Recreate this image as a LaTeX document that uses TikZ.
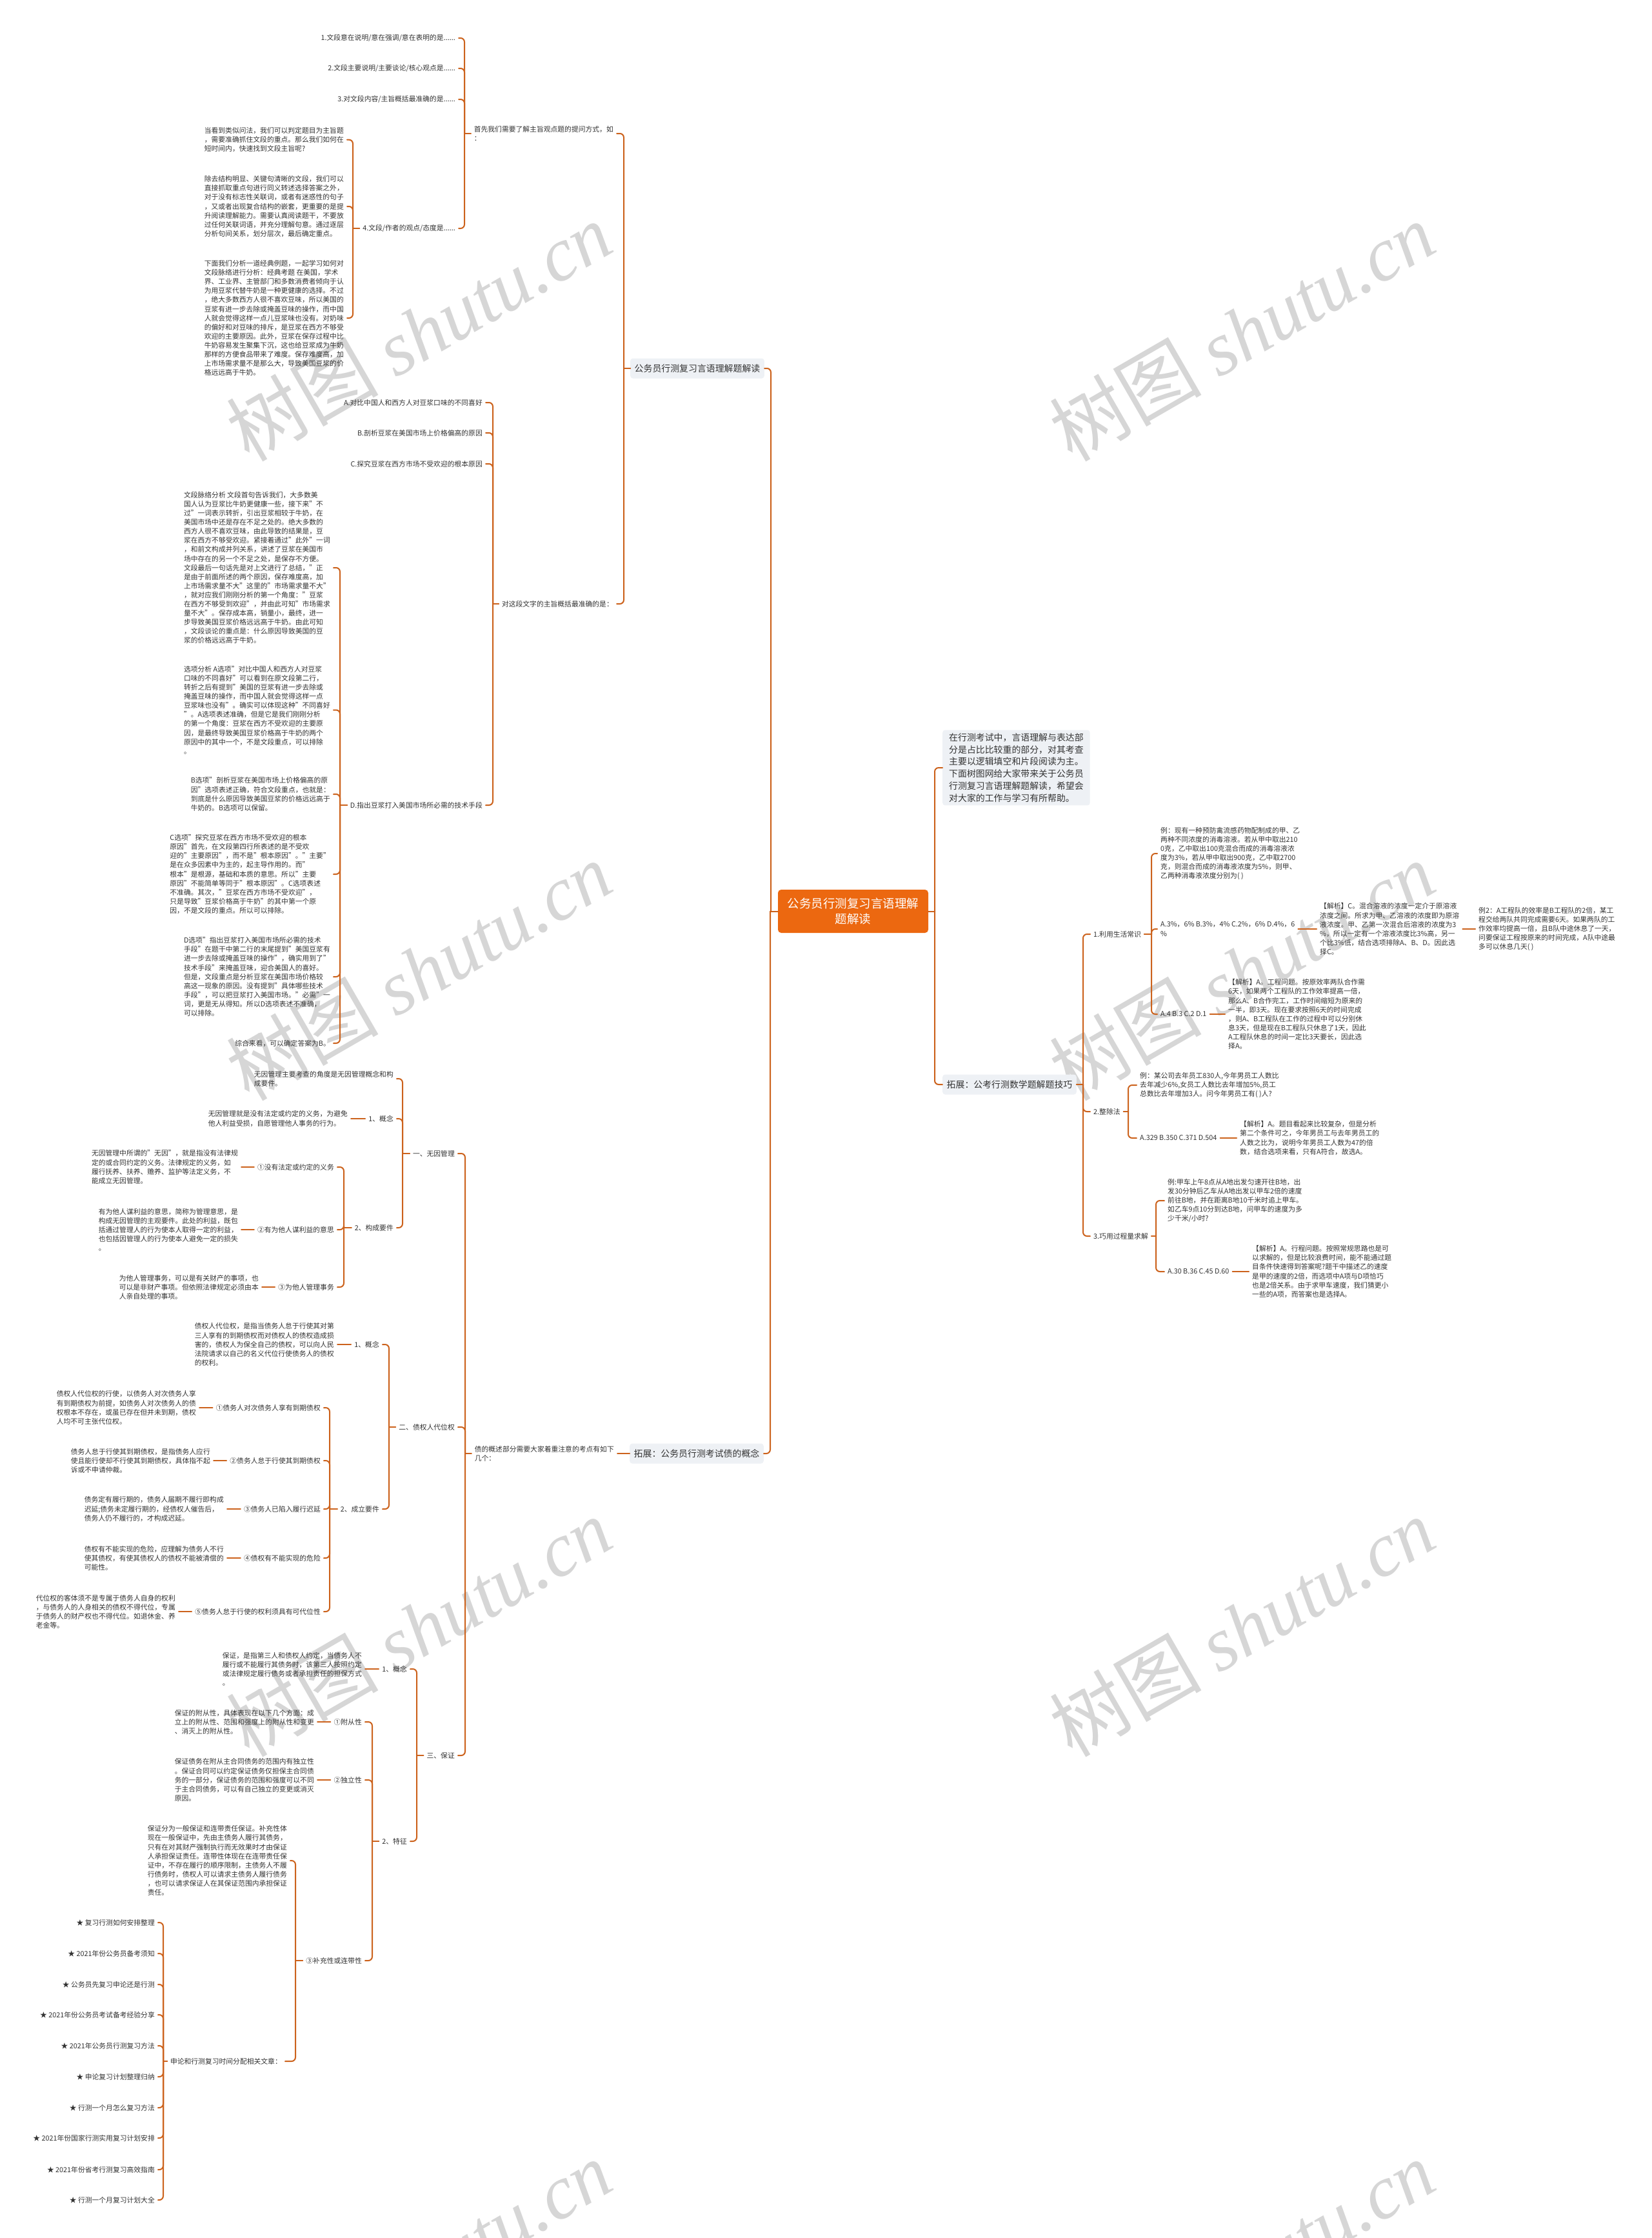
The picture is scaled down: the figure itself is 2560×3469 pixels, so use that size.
\documentclass[tikz,border=0pt]{standalone}
\usepackage{fontspec}
\setmainfont{Noto Sans CJK SC}
\newfontfamily\wmfont{Liberation Serif}
\definecolor{lc}{RGB}{204,98,28}
\definecolor{rootc}{RGB}{236,104,16}
\definecolor{boxc}{RGB}{238,241,245}
\definecolor{tc}{RGB}{51,51,51}
\newcommand\smallcn{\fontsize{10.8}{14.1}\selectfont}
\newcommand\midcn{\fontsize{13.9}{18.8}\selectfont}
\newcommand\bigcn{\fontsize{18.5}{24.5}\selectfont}
\newcommand\Lk[3]{\draw[conn] (#2.east) -- ++(#3,0) coordinate (tmpc) -- (tmpc |- #1.west);\draw[conn] (tmpc |- #1.west) -- (#1.west);}
\newcommand\Rk[3]{\draw[conn] (#2.west) -- ++(-#3,0) coordinate (tmpc) -- (tmpc |- #1.east);\draw[conn] (tmpc |- #1.east) -- (#1.east);}
\newcommand\Sl[2]{\draw[conn] (#1.west) -- (#1.west -| #2.east);}
\newcommand\Sr[2]{\draw[conn] (#1.east) -- (#1.east -| #2.west);}
\begin{document}
\begin{tikzpicture}[x=1pt,y=-1pt,
 conn/.style={draw=lc,line width=2pt,rounded corners=6pt,line cap=round},
 tl/.style={anchor=east,align=left,font=\smallcn,text=tc,inner xsep=5pt,inner ysep=1pt},
 tr/.style={anchor=west,align=left,font=\smallcn,text=tc,inner xsep=5pt,inner ysep=1pt},
 brbox/.style={fill=boxc,rounded corners=4pt,font=\midcn,text=tc,minimum height=31pt,inner xsep=6.5pt,inner ysep=0pt},
 introbox/.style={fill=boxc,rounded corners=4pt,font=\midcn,text=tc,align=left,anchor=west,inner xsep=10pt,inner ysep=5pt},
 rootbox/.style={fill=rootc,rounded corners=5pt,font=\bigcn,text=white,align=center,minimum width=233pt,minimum height=67pt,inner sep=0pt},
 wm/.style={rotate=30,text=black!16,font=\fontsize{118}{118}\selectfont,inner sep=0pt}]
\useasboundingbox (0,0) rectangle (2560,3469);
\fill[white] (0,0) rectangle (2560,3469);
% watermarks
\foreach \wx/\wy [count=\i] in {649/514,1925/514,649/1505,1925/1505,649/2522,1925/2522,649/3518,1925/3518}
  \node[wm] (wm\i) at (\wx,\wy) {树图 {\wmfont\itshape shutu.cn}};
% root
\node[rootbox] (root) at (1322.5,1412.5) {公务员行测复习言语理解\\题解读};
% ===== left branch 1 =====
\node[brbox,anchor=east] (b1) at (1185,571) {公务员行测复习言语理解题解读};
\node[tl] (q0) at (956,207) {首先我们需要了解主旨观点题的提问方式，如\\：};
\node[tl] (q1) at (711,59) {1.文段意在说明/意在强调/意在表明的是......};
\node[tl] (q2) at (711,106) {2.文段主要说明/主要谈论/核心观点是......};
\node[tl] (q3) at (711,154) {3.对文段内容/主旨概括最准确的是......};
\node[tl] (q4) at (711,354) {4.文段/作者的观点/态度是......};
\node[tl] (qa) at (538,216.6) {当看到类似问法，我们可以判定题目为主旨题\\，需要准确抓住文段的重点。那么我们如何在\\短时间内，快速找到文段主旨呢?};
\node[tl] (qb) at (538,320) {除去结构明显、关键句清晰的文段，我们可以\\直接抓取重点句进行同义转述选择答案之外，\\对于没有标志性关联词，或者有迷惑性的句子\\，又或者出现复合结构的嵌套，更重要的是提\\升阅读理解能力。需要认真阅读题干，不要放\\过任何关联词语，并充分理解句意。通过逐层\\分析句间关系，划分层次，最后确定重点。};
\node[tl] (qc) at (538,493) {下面我们分析一道经典例题，一起学习如何对\\文段脉络进行分析：经典考题 在美国，学术\\界、工业界、主管部门和多数消费者倾向于认\\为用豆浆代替牛奶是一种更健康的选择。不过\\，绝大多数西方人很不喜欢豆味，所以美国的\\豆浆有进一步去除或掩盖豆味的操作，而中国\\人就会觉得这样一点儿豆浆味也没有。对奶味\\的偏好和对豆味的排斥，是豆浆在西方不够受\\欢迎的主要原因。此外，豆浆在保存过程中比\\牛奶容易发生聚集下沉，这也给豆浆成为牛奶\\那样的方便食品带来了难度。保存难度高，加\\上市场需求量不是那么大，导致美国豆浆的价\\格远远高于牛奶。};
\node[tl] (a0) at (956,936) {对这段文字的主旨概括最准确的是：};
\node[tl] (aA) at (753,624) {A.对比中国人和西方人对豆浆口味的不同喜好};
\node[tl] (aB) at (753,671) {B.剖析豆浆在美国市场上价格偏高的原因};
\node[tl] (aC) at (753,719) {C.探究豆浆在西方市场不受欢迎的根本原因};
\node[tl] (aD) at (753,1248) {D.指出豆浆打入美国市场所必需的技术手段};
\node[tl] (da) at (517,880) {文段脉络分析 文段首句告诉我们，大多数美\\国人认为豆浆比牛奶更健康一些，接下来"不\\过"一词表示转折，引出豆浆相较于牛奶，在\\美国市场中还是存在不足之处的。绝大多数的\\西方人很不喜欢豆味，由此导致的结果是，豆\\浆在西方不够受欢迎。紧接着通过"此外"一词\\，和前文构成并列关系，讲述了豆浆在美国市\\场中存在的另一个不足之处，是保存不方便。\\文段最后一句话先是对上文进行了总结，"正\\是由于前面所述的两个原因，保存难度高，加\\上市场需求量不大"这里的"市场需求量不大"\\，就对应我们刚刚分析的第一个角度："豆浆\\在西方不够受到欢迎"，并由此可知"市场需求\\量不大"。保存成本高，销量小，最终，进一\\步导致美国豆浆价格远远高于牛奶。由此可知\\，文段谈论的重点是：什么原因导致美国的豆\\浆的价格远远高于牛奶。};
\node[tl] (db) at (517,1100.5) {选项分析 A选项"对比中国人和西方人对豆浆\\口味的不同喜好"可以看到在原文段第二行，\\转折之后有提到"美国的豆浆有进一步去除或\\掩盖豆味的操作，而中国人就会觉得这样一点\\豆浆味也没有"。确实可以体现这种"不同喜好\\"。A选项表述准确，但是它是我们刚刚分析\\的第一个角度：豆浆在西方不受欢迎的主要原\\因，是最终导致美国豆浆价格高于牛奶的两个\\原因中的其中一个，不是文段重点，可以排除\\。};
\node[tl] (dc) at (517,1231) {B选项"剖析豆浆在美国市场上价格偏高的原\\因"选项表述正确，符合文段重点，也就是：\\到底是什么原因导致美国豆浆的价格远远高于\\牛奶的。B选项可以保留。};
\node[tl] (dd) at (517,1355) {C选项"探究豆浆在西方市场不受欢迎的根本\\原因"首先，在文段第四行所表述的是不受欢\\迎的"主要原因"，而不是"根本原因"。"主要"\\是在众多因素中为主的，起主导作用的。而"\\根本"是根源，基础和本质的意思。所以"主要\\原因"不能简单等同于"根本原因"。C选项表述\\不准确。其次，"豆浆在西方市场不受欢迎"，\\只是导致"豆浆价格高于牛奶"的其中第一个原\\因，不是文段的重点。所以可以排除。};
\node[tl] (de) at (517,1514) {D选项"指出豆浆打入美国市场所必需的技术\\手段"在题干中第二行的末尾提到"美国豆浆有\\进一步去除或掩盖豆味的操作"，确实用到了"\\技术手段"来掩盖豆味，迎合美国人的喜好。\\但是，文段重点是分析豆浆在美国市场价格较\\高这一现象的原因。没有提到"具体哪些技术\\手段"，可以把豆浆打入美国市场。"必需"一\\词，更是无从得知。所以D选项表述不准确，\\可以排除。};
\node[tl] (df) at (517,1617) {综合来看，可以确定答案为B。};
% ===== left branch 2 =====
\node[brbox,anchor=east] (b2) at (1184,2253) {拓展：公务员行测考试债的概念};
\node[tl] (c0) at (957,2253) {债的概述部分需要大家着重注意的考点有如下\\几个：};
\node[tl] (n1) at (710,1788) {一、无因管理};
\node[tl] (n2) at (710,2212) {二、债权人代位权};
\node[tl] (n3) at (710,2721) {三、保证};
\node[tl] (n1a) at (615,1672) {无因管理主要考查的角度是无因管理概念和构\\成要件。};
\node[tl] (n1b) at (615,1734) {1、概念};
\node[tl] (n1c) at (615,1903) {2、构成要件};
\node[tl] (n1b1) at (544,1734) {无因管理就是没有法定或约定的义务，为避免\\他人利益受损，自愿管理他人事务的行为。};
\node[tl] (n1c1) at (523,1809) {①没有法定或约定的义务};
\node[tl] (n1c2) at (523,1906) {②有为他人谋利益的意思};
\node[tl] (n1c3) at (523,1995) {③为他人管理事务};
\node[tl] (n1c1t) at (374,1809) {无因管理中所谓的"无因"，就是指没有法律规\\定的或合同约定的义务。法律规定的义务，如\\履行抚养、扶养、赡养、监护等法定义务，不\\能成立无因管理。};
\node[tl] (n1c2t) at (374,1906) {有为他人谋利益的意思，简称为管理意思，是\\构成无因管理的主观要件。此处的利益，既包\\括通过管理人的行为使本人取得一定的利益，\\也包括因管理人的行为使本人避免一定的损失\\。};
\node[tl] (n1c3t) at (406,1995) {为他人管理事务，可以是有关财产的事项，也\\可以是非财产事项。但依照法律规定必须由本\\人亲自处理的事项。};
\node[tl] (n2a) at (593,2084) {1、概念};
\node[tl] (n2b) at (593,2339) {2、成立要件};
\node[tl] (n2a1) at (523,2084) {债权人代位权，是指当债务人怠于行使其对第\\三人享有的到期债权而对债权人的债权造成损\\害的，债权人为保全自己的债权，可以向人民\\法院请求以自己的名义代位行使债务人的债权\\的权利。};
\node[tl] (n2b1) at (502,2182) {①债务人对次债务人享有到期债权};
\node[tl] (n2b2) at (502,2264) {②债务人怠于行使其到期债权};
\node[tl] (n2b3) at (502,2339) {③债务人已陷入履行迟延};
\node[tl] (n2b4) at (502,2415) {④债权有不能实现的危险};
\node[tl] (n2b5) at (502,2498) {⑤债务人怠于行使的权利须具有可代位性};
\node[tl] (n2b1t) at (309,2182) {债权人代位权的行使，以债务人对次债务人享\\有到期债权为前提，如债务人对次债务人的债\\权根本不存在，或虽已存在但并未到期，债权\\人均不可主张代位权。};
\node[tl] (n2b2t) at (331,2264) {债务人怠于行使其到期债权，是指债务人应行\\使且能行使却不行使其到期债权，具体指不起\\诉或不申请仲裁。};
\node[tl] (n2b3t) at (352,2339) {债务定有履行期的，债务人届期不履行即构成\\迟延;债务未定履行期的，经债权人催告后，\\债务人仍不履行的，才构成迟延。};
\node[tl] (n2b4t) at (352,2415) {债权有不能实现的危险，应理解为债务人不行\\使其债权，有使其债权人的债权不能被清偿的\\可能性。};
\node[tl] (n2b5t) at (277,2498) {代位权的客体须不是专属于债务人自身的权利\\，与债务人的人身相关的债权不得代位，专属\\于债务人的财产权也不得代位。如退休金、养\\老金等。};
\node[tl] (n3a) at (636,2587) {1、概念};
\node[tl] (n3b) at (636,2854) {2、特征};
\node[tl] (n3a1) at (566,2587) {保证，是指第三人和债权人约定，当债务人不\\履行或不能履行其债务时，该第三人按照约定\\或法律规定履行债务或者承担责任的担保方式\\。};
\node[tl] (n3b1) at (566,2669) {①附从性};
\node[tl] (n3b2) at (566,2759) {②独立性};
\node[tl] (n3b3) at (566,3039) {③补充性或连带性};
\node[tl] (n3b1t) at (492,2669) {保证的附从性，具体表现在以下几个方面：成\\立上的附从性、范围和强度上的附从性和变更\\、消灭上的附从性。};
\node[tl] (n3b2t) at (492,2759) {保证债务在附从主合同债务的范围内有独立性\\。保证合同可以约定保证债务仅担保主合同债\\务的一部分，保证债务的范围和强度可以不同\\于主合同债务，可以有自己独立的变更或消灭\\原因。};
\node[tl] (n3b3t) at (450,2884) {保证分为一般保证和连带责任保证。补充性体\\现在一般保证中，先由主债务人履行其债务，\\只有在对其财产强制执行而无效果时才由保证\\人承担保证责任。连带性体现在在连带责任保\\证中，不存在履行的顺序限制，主债务人不履\\行债务时，债权人可以请求主债务人履行债务\\，也可以请求保证人在其保证范围内承担保证\\责任。};
\node[tl] (sl) at (442,3195) {申论和行测复习时间分配相关文章：};
\node[tl] (s1) at (245,2980) {★ 复习行测如何安排整理};
\node[tl] (s2) at (245,3028) {★ 2021年份公务员备考须知};
\node[tl] (s3) at (245,3076) {★ 公务员先复习申论还是行测};
\node[tl] (s4) at (245,3123) {★ 2021年份公务员考试备考经验分享};
\node[tl] (s5) at (245,3171) {★ 2021年公务员行测复习方法};
\node[tl] (s6) at (245,3219) {★ 申论复习计划整理归纳};
\node[tl] (s7) at (245,3267) {★ 行测一个月怎么复习方法};
\node[tl] (s8) at (245,3314) {★ 2021年份国家行测实用复习计划安排};
\node[tl] (s9) at (245,3363) {★ 2021年份省考行测复习高效指南};
\node[tl] (s10) at (245,3410) {★ 行测一个月复习计划大全};
% ===== right side =====
\node[introbox] (intro) at (1461,1190) {在行测考试中，言语理解与表达部\\分是占比比较重的部分，对其考查\\主要以逻辑填空和片段阅读为主。\\下面树图网给大家带来关于公务员\\行测复习言语理解题解读，希望会\\对大家的工作与学习有所帮助。};
\node[brbox,anchor=west] (r0) at (1461,1681) {拓展：公考行测数学题解题技巧};
\node[tr] (r1) at (1690,1448) {1.利用生活常识};
\node[tr] (r2) at (1690,1723) {2.整除法};
\node[tr] (r3) at (1690,1916) {3.巧用过程量求解};
\node[tr] (r1a) at (1794,1323) {例：现有一种预防禽流感药物配制成的甲、乙\\两种不同浓度的消毒溶液。若从甲中取出210\\0克，乙中取出100克混合而成的消毒溶液浓\\度为3\%，若从甲中取出900克，乙中取2700\\克，则混合而成的消毒液浓度为5\%，则甲、\\乙两种消毒液浓度分别为( )};
\node[tr] (r1b) at (1794,1440) {A.3\%，6\% B.3\%，4\% C.2\%，6\% D.4\%，6\\{}\%};
\node[tr] (r1c) at (1794,1572) {A.4 B.3 C.2 D.1};
\node[tr] (r1b1) at (2041,1440) {【解析】C。混合溶液的浓度一定介于原溶液\\浓度之间。所求为甲、乙溶液的浓度即为原溶\\液浓度。甲、乙第一次混合后溶液的浓度为3\\{}\%，所以一定有一个溶液浓度比3\%高，另一\\个比3\%低，结合选项排除A、B、D。因此选\\择C。};
\node[tr] (r1b2) at (2287,1440) {例2：A工程队的效率是B工程队的2倍，某工\\程交给两队共同完成需要6天。如果两队的工\\作效率均提高一倍，且B队中途休息了一天，\\问要保证工程按原来的时间完成，A队中途最\\多可以休息几天( )};
\node[tr] (r1c1) at (1899,1572) {【解析】A。工程问题。按原效率两队合作需\\6天，如果两个工程队的工作效率提高一倍，\\那么A、B合作完工，工作时间缩短为原来的\\一半，即3天。现在要求按照6天的时间完成\\，则A、B工程队在工作的过程中可以分别休\\息3天，但是现在B工程队只休息了1天，因此\\A工程队休息的时间一定比3天要长，因此选\\择A。};
\node[tr] (r2a) at (1762,1682) {例：某公司去年员工830人,今年男员工人数比\\去年减少6\%,女员工人数比去年增加5\%,员工\\总数比去年增加3人。问今年男员工有( )人?};
\node[tr] (r2b) at (1762,1764) {A.329 B.350 C.371 D.504};
\node[tr] (r2b1) at (1917,1764) {【解析】A。题目看起来比较复杂，但是分析\\第二个条件可之，今年男员工与去年男员工的\\人数之比为，说明今年男员工人数为47的倍\\数，结合选项来看，只有A符合，故选A。};
\node[tr] (r3a) at (1805,1861) {例:甲车上午8点从A地出发匀速开往B地，出\\发30分钟后乙车从A地出发以甲车2倍的速度\\前往B地，并在距离B地10千米时追上甲车。\\如乙车9点10分到达B地，问甲车的速度为多\\少千米/小时?};
\node[tr] (r3b) at (1805,1971) {A.30 B.36 C.45 D.60};
\node[tr] (r3b1) at (1936,1971) {【解析】A。行程问题。按照常规思路也是可\\以求解的，但是比较浪费时间，能不能通过题\\目条件快速得到答案呢?题干中描述乙的速度\\是甲的速度的2倍，而选项中A项与D项恰巧\\也是2倍关系。由于求甲车速度，我们猜更小\\一些的A项，而答案也是选择A。};
% ===== connectors left =====
\Lk{root}{b1}{10}\Lk{root}{b2}{10}
\Lk{b1}{q0}{11}\Lk{b1}{a0}{11}
\Lk{q0}{q1}{9}\Lk{q0}{q2}{9}\Lk{q0}{q3}{9}\Lk{q0}{q4}{9}
\Lk{q4}{qa}{9}\Lk{q4}{qb}{9}\Lk{q4}{qc}{9}
\Lk{a0}{aA}{11}\Lk{a0}{aB}{11}\Lk{a0}{aC}{11}\Lk{a0}{aD}{11}
\Lk{aD}{da}{10}\Lk{aD}{db}{10}\Lk{aD}{dc}{10}\Lk{aD}{dd}{10}\Lk{aD}{de}{10}\Lk{aD}{df}{10}
\Sl{b2}{c0}
\Lk{c0}{n1}{11}\Lk{c0}{n2}{11}\Lk{c0}{n3}{11}
\Lk{n1}{n1a}{9}\Lk{n1}{n1b}{9}\Lk{n1}{n1c}{9}
\Sl{n1b}{n1b1}
\Lk{n1c}{n1c1}{10}\Lk{n1c}{n1c2}{10}\Lk{n1c}{n1c3}{10}
\Sl{n1c1}{n1c1t}\Sl{n1c2}{n1c2t}\Sl{n1c3}{n1c3t}
\Lk{n2}{n2a}{10}\Lk{n2}{n2b}{10}
\Sl{n2a}{n2a1}
\Lk{n2b}{n2b1}{9}\Lk{n2b}{n2b2}{9}\Lk{n2b}{n2b3}{9}\Lk{n2b}{n2b4}{9}\Lk{n2b}{n2b5}{9}
\Sl{n2b1}{n2b1t}\Sl{n2b2}{n2b2t}\Sl{n2b3}{n2b3t}\Sl{n2b4}{n2b4t}\Sl{n2b5}{n2b5t}
\Lk{n3}{n3a}{10}\Lk{n3}{n3b}{10}
\Sl{n3a}{n3a1}
\Lk{n3b}{n3b1}{11}\Lk{n3b}{n3b2}{11}\Lk{n3b}{n3b3}{11}
\Sl{n3b1}{n3b1t}\Sl{n3b2}{n3b2t}
\Lk{n3b3}{n3b3t}{8}\Lk{n3b3}{sl}{16}
\Lk{sl}{s1}{8}\Lk{sl}{s2}{8}\Lk{sl}{s3}{8}\Lk{sl}{s4}{8}\Lk{sl}{s5}{8}
\Lk{sl}{s6}{8}\Lk{sl}{s7}{8}\Lk{sl}{s8}{8}\Lk{sl}{s9}{8}\Lk{sl}{s10}{8}
% ===== connectors right =====
\Rk{root}{intro}{12}\Rk{root}{r0}{12}
\Rk{r0}{r1}{11}\Rk{r0}{r2}{11}\Rk{r0}{r3}{11}
\Rk{r1}{r1a}{9}\Rk{r1}{r1b}{9}\Rk{r1}{r1c}{9}
\Sr{r1b}{r1b1}\Sr{r1b1}{r1b2}\Sr{r1c}{r1c1}
\Rk{r2}{r2a}{13}\Rk{r2}{r2b}{13}
\Sr{r2b}{r2b1}
\Rk{r3}{r3a}{13}\Rk{r3}{r3b}{13}
\Sr{r3b}{r3b1}
\end{tikzpicture}
\end{document}
